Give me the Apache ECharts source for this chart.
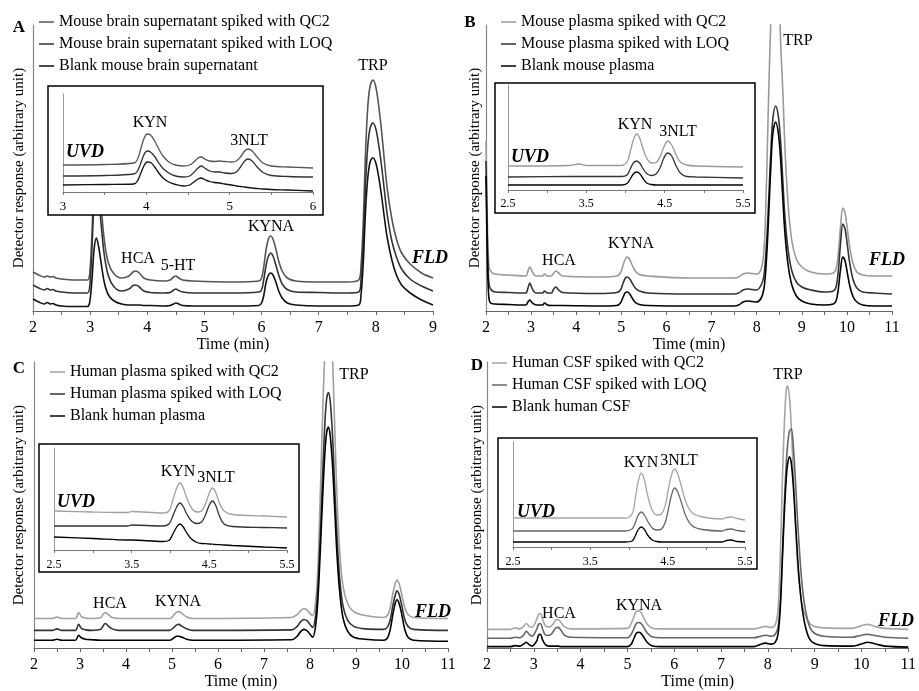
<!DOCTYPE html>
<html>
<head>
<meta charset="utf-8">
<script src="https://cdn.jsdelivr.net/npm/echarts@6/dist/echarts.min.js"></script>
<style>
  html, body { margin: 0; padding: 0; background: #fff; }
  #chart { width: 919px; height: 691px; }
</style>
</head>
<body>
<div id="chart"></div>
<script>
// ---- data (time in min, response in arbitrary units) ----

// Panel A: mouse brain supernatant, FLD
const timeA = [2.0, 2.1, 2.2, 2.25, 2.3, 2.35, 2.4, 2.5, 2.7, 2.95, 2.99, 3.03, 3.07, 3.11, 3.15, 3.2, 3.25, 3.32, 3.42, 3.55, 3.68, 3.75, 3.8, 3.86, 3.94, 4.05, 4.3, 4.4, 4.46, 4.5, 4.55, 4.62, 4.8, 5.5, 5.95, 6.0, 6.04, 6.08, 6.12, 6.16, 6.2, 6.25, 6.3, 6.36, 6.45, 6.6, 7.0, 7.5, 7.7, 7.74, 7.78, 7.82, 7.86, 7.9, 7.95, 8.0, 8.05, 8.1, 8.15, 8.2, 8.28, 8.36, 8.45, 8.6, 8.8, 9.0]
const qc2A = [39, 36, 34, 35, 34, 34.5, 33, 32, 31, 31, 36, 75, 135, 150, 135, 100, 70, 48, 37, 33, 35, 39, 40, 38, 33, 31, 30, 31, 34, 35, 33, 31, 30, 29, 30, 33, 45, 62, 72, 75, 72, 62, 50, 40, 33, 30, 29, 29, 31, 45, 90, 160, 205, 225, 231, 224, 205, 180, 150, 122, 92, 72, 58, 47, 38, 33]
const loqA = [26, 23, 21, 22.5, 21, 21.5, 20, 19, 18, 18, 23, 60, 110, 125, 112, 82, 55, 35, 24, 20, 22, 25.5, 26, 24, 20, 18.5, 18, 18.5, 21, 22, 20.5, 19, 18, 18, 19, 21, 32, 46, 55, 58, 55, 46, 36, 27, 21.5, 19, 18.5, 18, 19, 31, 69, 128, 166, 183, 188, 182, 166, 145, 120, 96, 70, 54, 42, 32, 25, 20]
const blankA = [12, 9, 7, 8.5, 7, 7.5, 6, 5, 4.5, 4.5, 8, 30, 62, 73, 64, 45, 28, 16, 10, 7, 6, 6, 6, 6, 5.5, 5.5, 5, 5.5, 7, 8, 7, 5.5, 5, 5, 5.5, 8, 16, 29, 36, 38, 36, 29, 20, 13, 8, 6, 5, 5, 6, 16, 49, 101, 134, 149, 153, 148, 134, 115, 93, 73, 51, 36, 26, 18, 11, 6]
// Panel A inset, UVD
const timeAi = [3.0, 3.5, 3.85, 3.89, 3.93, 3.97, 4.01, 4.05, 4.1, 4.15, 4.2, 4.27, 4.35, 4.45, 4.52, 4.57, 4.62, 4.66, 4.7, 4.76, 4.82, 4.88, 4.94, 5.02, 5.08, 5.13, 5.18, 5.22, 5.27, 5.33, 5.4, 5.5, 5.7, 6.0]
const qc2Ai = [27, 27.5, 29, 32, 42, 53, 58, 57, 51, 43, 36, 30, 27, 26, 27, 30, 34, 35, 33, 31, 30.5, 31, 30.5, 30, 31, 35, 41, 43, 41, 35, 29, 26, 25, 24]
const loqAi = [16, 16.5, 18, 20.5, 28, 37, 41, 40, 35.5, 29, 23.5, 19, 16, 15, 16, 19.5, 24, 26, 24, 21, 20, 20, 19, 18.5, 20, 25, 31, 33, 31, 25, 19.5, 16.5, 15.5, 15]
const blankAi = [7, 7.5, 8, 10.5, 18, 26, 30, 29.5, 25, 19, 14, 10, 7.5, 6, 7, 10, 13, 14, 12.5, 10.5, 9.5, 9, 8, 7, 6, 5.5, 5, 4.5, 4, 3.5, 3, 2.5, 2, 1]

// Panel B: mouse plasma, FLD
const timeB = [2.0, 2.03, 2.06, 2.1, 2.2, 2.5, 2.88, 2.93, 2.97, 3.01, 3.06, 3.12, 3.25, 3.3, 3.36, 3.45, 3.5, 3.55, 3.61, 3.7, 4.5, 4.9, 4.98, 5.04, 5.09, 5.13, 5.18, 5.24, 5.31, 5.4, 5.6, 6.5, 7.5, 7.6, 7.7, 7.8, 7.9, 8.0, 8.1, 8.16, 8.2, 8.24, 8.28, 8.32, 8.36, 8.42, 8.48, 8.53, 8.58, 8.63, 8.7, 8.78, 8.88, 9.0, 9.2, 9.5, 9.7, 9.76, 9.81, 9.86, 9.91, 9.96, 10.01, 10.07, 10.14, 10.22, 10.35, 10.6, 11.0]
const qc2B = [170, 90, 48, 40, 37, 36, 35, 40, 44, 41, 36.5, 35, 35, 37, 35, 35, 38, 40, 38, 35, 34, 35, 38, 46, 52, 54, 52, 46, 40, 36.5, 35, 33, 33, 34, 37, 38, 37.5, 37, 42, 60, 100, 170, 240, 300, 360, 400, 360, 270, 220, 160, 105, 70, 52, 44, 39, 37, 38, 42, 58, 85, 103, 98, 82, 62, 47, 39, 36, 35, 35]
const loqB = [150, 70, 30, 22, 19, 18.5, 18, 23, 28, 24, 19.5, 18, 18, 20, 18, 18, 22, 24, 21, 18.5, 17.5, 18.5, 21, 28, 33, 34, 32.5, 28, 23, 20, 18, 17, 17, 18, 21, 22, 21.5, 21, 26, 35, 55, 85, 125, 165, 193, 205, 195, 170, 130, 92, 60, 40, 29, 24, 21, 19, 20, 24, 40, 68, 87, 82, 66, 46, 31, 23, 19, 18, 17]
const blankB = [135, 55, 15, 8, 7, 6.5, 6, 9, 11, 9, 7, 6, 6, 8, 6, 5.5, 5.5, 5.5, 5.5, 5.5, 5, 5.5, 8, 14, 18.5, 19, 17.5, 13, 8.5, 6.5, 5.5, 5, 5, 6, 9, 10, 9.5, 9, 13, 22, 40, 70, 110, 150, 178, 189, 178, 152, 112, 76, 45, 26, 15, 10, 7, 6, 7, 10, 22, 42, 54, 50, 38, 24, 14, 9, 6, 5, 5]
// Panel B inset, UVD
const timeBi = [2.5, 3.3, 3.4, 3.5, 3.95, 4.02, 4.06, 4.1, 4.14, 4.18, 4.22, 4.27, 4.33, 4.39, 4.44, 4.49, 4.54, 4.59, 4.64, 4.7, 4.78, 4.9, 5.5]
const qc2Bi = [24, 24.5, 26, 24.5, 24.5, 28, 38, 50, 56, 52, 42, 32, 27, 27.5, 33, 43, 49, 45, 36, 28, 25, 24, 23]
const loqBi = [13, 13.5, 13.5, 13.5, 13.5, 15, 21, 27, 29, 27, 22, 16.5, 14.5, 16, 22, 32, 37, 34, 25, 17, 13.5, 13, 12]
const blankBi = [5, 5, 5, 5, 5, 6.5, 11, 16, 18, 16.5, 12, 7, 5.5, 5, 5, 5, 5, 5, 5, 5, 5, 5, 5]

// Panel C: human plasma, FLD
const timeC = [2.0, 2.4, 2.5, 2.6, 2.9, 2.97, 3.03, 3.12, 3.25, 3.45, 3.5, 3.55, 3.6, 3.7, 3.85, 4.95, 5.03, 5.1, 5.15, 5.22, 5.32, 5.45, 7.6, 7.72, 7.8, 7.87, 7.94, 8.0, 8.06, 8.12, 8.17, 8.22, 8.27, 8.32, 8.36, 8.4, 8.44, 8.49, 8.54, 8.59, 8.65, 8.72, 8.82, 8.95, 9.2, 9.6, 9.68, 9.74, 9.8, 9.85, 9.89, 9.94, 10.0, 10.06, 10.13, 10.25, 11.0]
const qc2C = [30, 30, 31.5, 30, 30, 36, 32, 30.5, 30, 31, 34, 36, 34.5, 31, 30, 30, 33, 36.5, 37, 35, 31.5, 30, 31, 34, 38, 40, 38.5, 35, 33, 46, 80, 150, 230, 300, 345, 360, 345, 295, 220, 150, 95, 62, 45, 37, 33, 31, 33, 40, 55, 65, 69, 65, 53, 41, 34, 31, 30]
const loqC = [18, 18, 19.5, 18, 18, 24, 20, 18.5, 18, 19, 22.5, 25, 23, 19.5, 18, 18, 20.5, 23.5, 24, 22, 19.5, 18, 18.5, 22, 27, 29, 27.5, 24, 21, 32, 60, 110, 170, 225, 252, 259, 250, 215, 160, 110, 68, 42, 28, 22, 19.5, 19, 21, 28, 43, 53, 58, 54, 42, 29, 22, 19, 18]
const blankC = [8, 8, 9, 8, 8, 13, 10.5, 9, 8.5, 8, 8, 8, 8, 8, 8, 8, 10, 12, 12, 11, 9, 8, 8.5, 12, 17, 19, 17.5, 14, 11, 22, 48, 95, 148, 195, 218, 224, 215, 185, 138, 92, 55, 30, 17, 11, 9, 8, 10, 18, 34, 45, 49, 45, 33, 19, 11, 8, 7]
// Panel C inset, UVD
const timeCi = [2.5, 3.0, 3.45, 3.5, 3.9, 3.98, 4.03, 4.08, 4.12, 4.16, 4.21, 4.27, 4.34, 4.4, 4.45, 4.5, 4.54, 4.58, 4.63, 4.69, 4.8, 5.2, 5.5]
const qc2Ci = [39, 38, 37.5, 38.5, 37, 39, 50, 62, 67, 63, 52, 42, 38, 39, 46, 57, 62, 58, 47, 39, 35.5, 34, 33]
const loqCi = [24, 24, 24, 25, 24, 26, 34, 43, 47, 44, 36, 29, 26.5, 28, 35, 45, 49, 45, 34, 26, 23.5, 22.5, 22]
const blankCi = [13, 11.5, 10, 10, 8.5, 9.5, 16, 23, 26, 23.5, 17, 11, 7.5, 6.5, 6.3, 6, 5.8, 5.5, 5.3, 5, 4.5, 3, 2]

// Panel D: human CSF, FLD
const timeD = [2.0, 2.5, 2.6, 2.7, 2.78, 2.84, 2.9, 2.96, 3.06, 3.1, 3.14, 3.19, 3.26, 3.34, 3.42, 3.47, 3.52, 3.58, 3.66, 3.78, 5.0, 5.08, 5.14, 5.19, 5.24, 5.29, 5.35, 5.42, 5.52, 5.7, 7.7, 7.85, 7.95, 8.08, 8.16, 8.22, 8.27, 8.31, 8.35, 8.39, 8.42, 8.46, 8.5, 8.55, 8.6, 8.66, 8.74, 8.84, 8.95, 9.2, 9.8, 9.95, 10.05, 10.12, 10.2, 10.32, 10.5, 11.0]
const qc2D = [19, 19, 20.5, 19.5, 22, 25, 22, 21, 29, 34, 35, 29, 22, 21.5, 25, 28.5, 29, 26, 21.5, 19.5, 20, 25, 32, 37, 38, 36, 30.5, 24.5, 20.5, 19.5, 19.5, 21, 22, 21, 24, 40, 100, 170, 225, 260, 266, 255, 225, 170, 115, 70, 42, 29, 23, 20.5, 20, 22, 23.5, 24, 23.5, 21.5, 20, 19]
const loqD = [10, 10, 11, 10.5, 13, 17, 14, 12, 19, 24, 25, 19, 13, 13, 17, 20.5, 21, 18, 13, 11, 10.5, 14, 20, 25, 26, 25, 21, 15.5, 11.5, 10.5, 10.5, 12, 13, 12, 14, 22, 50, 95, 145, 185, 205, 220, 222, 200, 160, 110, 60, 30, 17, 12, 11, 12.5, 13.5, 14, 13.5, 12.5, 11, 10]
const blankD = [1.5, 1.5, 2.5, 2, 4, 6, 3.5, 2, 7, 13, 14, 8, 3, 2, 2, 2, 2, 1.5, 1.5, 1.5, 1.5, 4, 10, 15, 16, 15, 11, 6, 2.5, 1.5, 1.5, 4, 5, 4, 6, 15, 45, 90, 135, 170, 186, 194, 188, 160, 120, 75, 38, 15, 6, 2.5, 2, 3.5, 5, 6, 5.5, 4, 2, 1]
// Panel D inset, UVD
const timeDi = [2.5, 3.95, 4.04, 4.08, 4.12, 4.16, 4.2, 4.24, 4.3, 4.36, 4.42, 4.47, 4.51, 4.55, 4.59, 4.63, 4.68, 4.74, 4.82, 4.95, 5.2, 5.26, 5.32, 5.4, 5.5]
const qc2Di = [29, 29, 33, 48, 66, 74, 67, 52, 37, 32, 33, 42, 58, 72, 78, 73, 60, 44, 34, 30, 28, 29.5, 30, 28.5, 27]
const loqDi = [16, 16, 18, 24, 32, 35, 32, 26, 19, 17, 18, 25, 38, 52, 59, 55, 44, 30, 21, 17.5, 16, 17.5, 18, 16.5, 15.5]
const blankDi = [5, 5, 6, 11, 17.5, 20, 17.5, 12, 7, 5.5, 5, 5, 5, 5, 5, 5, 5, 5, 5, 5, 5, 6.5, 7, 5.5, 5]

const legendA = ['Mouse brain supernatant spiked with QC2', 'Mouse brain supernatant spiked with LOQ', 'Blank mouse brain supernatant']
const legendB = ['Mouse plasma spiked with QC2', 'Mouse plasma spiked with LOQ', 'Blank mouse plasma']
const legendC = ['Human plasma spiked with QC2', 'Human plasma spiked with LOQ', 'Blank human plasma']
const legendD = ['Human CSF spiked with QC2', 'Human CSF spiked with LOQ', 'Blank human CSF']

// ---- styling ----
const FONT = '"Liberation Serif", "Times New Roman", serif'
const colorsA = ['#555555', '#333333', '#111111']
const colorsB = ['#9a9a9a', '#333333', '#000000']
const colorsC = ['#a0a0a0', '#333333', '#000000']
const colorsD = ['#a5a5a5', '#666666', '#000000']

const chart = echarts.init(document.getElementById('chart'), null, { renderer: 'canvas' })

const trace = (name, xs, ys, axis, color, z, width) => ({
  name,
  type: 'line',
  xAxisIndex: axis,
  yAxisIndex: axis,
  data: xs.map((t, i) => [t, ys[i]]),
  showSymbol: false,
  smooth: 0.35,
  color,
  itemStyle: { color },
  lineStyle: { color, width },
  z,
  silent: true,
  clip: true,
})

const mainX = (i, max) => ({
  gridIndex: i,
  type: 'value',
  min: 2,
  max,
  interval: 1,
  name: 'Time (min)',
  nameLocation: 'middle',
  nameGap: 23,
  nameTextStyle: { fontFamily: FONT, fontSize: 16, color: '#000' },
  axisLine: { onZero: false, lineStyle: { color: '#666', width: 1.2 } },
  axisTick: { show: true, length: 4, lineStyle: { color: '#666' } },
  minorTick: { show: true, splitNumber: 2, length: 4, lineStyle: { color: '#666' } },
  axisLabel: { fontFamily: FONT, fontSize: 16, color: '#000', margin: 9 },
  splitLine: { show: false },
})

const mainY = (i, max, gap) => ({
  gridIndex: i,
  type: 'value',
  min: 0,
  max,
  name: 'Detector response (arbitrary unit)',
  nameLocation: 'middle',
  nameGap: gap,
  nameTextStyle: { fontFamily: FONT, fontSize: 15, color: '#000' },
  axisLine: { show: true, onZero: false, lineStyle: { color: '#888', width: 1.2 } },
  axisTick: { show: false },
  axisLabel: { show: false },
  splitLine: { show: false },
})

const insetX = (i, min, max, fontSize, margin, half) => ({
  gridIndex: i,
  type: 'value',
  min,
  max,
  interval: 0.5,
  z: 12,
  axisLine: { onZero: false, lineStyle: { color: '#777', width: 1 } },
  axisTick: { show: true, length: 3, lineStyle: { color: '#777' } },
  axisLabel: {
    fontFamily: FONT, fontSize, color: '#000', margin,
    formatter: (v) => {
      const whole = Math.abs(v - Math.round(v)) < 1e-6
      if (half) return whole ? '' : v.toFixed(1)
      return whole ? String(Math.round(v)) : ''
    },
  },
  splitLine: { show: false },
})

const insetY = (i, max) => ({
  gridIndex: i,
  type: 'value',
  min: 0,
  max,
  z: 12,
  axisLine: { show: true, onZero: false, lineStyle: { color: '#999', width: 1 } },
  axisTick: { show: false },
  axisLabel: { show: false },
  splitLine: { show: false },
})

const legend = (names, left, top) => ({
  data: names,
  orient: 'vertical',
  left,
  top,
  padding: 0,
  itemWidth: 15,
  itemHeight: 1.5,
  itemGap: 6,
  icon: 'rect',
  selectedMode: false,
  textStyle: { fontFamily: FONT, fontSize: 16, color: '#000', lineHeight: 16 },
})

const text = (t, x, y, size = 16, style = 'normal') => ({
  type: 'text',
  x,
  y,
  z: 20,
  silent: true,
  style: {
    text: t,
    fill: '#000',
    font: `${style} ${size}px ${FONT}`,
    align: 'center',
    verticalAlign: 'middle',
  },
})

const frame = (x, y, width, height) => ({
  type: 'rect',
  z: 10,
  silent: true,
  shape: { x, y, width, height },
  style: { fill: '#fff', stroke: '#000', lineWidth: 1.5 },
})

const series = []
const addPanel = (names, colors, axis, time, q, l, b, width) => {
  series.push(trace(names[0], time, q, axis, colors[0], 3, width))
  series.push(trace(names[1], time, l, axis, colors[1], 4, width))
  series.push(trace(names[2], time, b, axis, colors[2], 5, width))
}
addPanel(legendA, colorsA, 0, timeA, qc2A, loqA, blankA, 1.6)
addPanel(legendB, colorsB, 1, timeB, qc2B, loqB, blankB, 1.6)
addPanel(legendC, colorsC, 2, timeC, qc2C, loqC, blankC, 1.6)
addPanel(legendD, colorsD, 3, timeD, qc2D, loqD, blankD, 1.6)
const insetNames = (p) => [p + ' inset QC2', p + ' inset LOQ', p + ' inset blank']
const addInset = (p, colors, axis, time, q, l, b) => {
  const n = insetNames(p)
  series.push(trace(n[0], time, q, axis, colors[0], 15, 1.3))
  series.push(trace(n[1], time, l, axis, colors[1], 16, 1.3))
  series.push(trace(n[2], time, b, axis, colors[2], 17, 1.3))
}
addInset('A', colorsA, 4, timeAi, qc2Ai, loqAi, blankAi)
addInset('B', colorsB, 5, timeBi, qc2Bi, loqBi, blankBi)
addInset('C', colorsC, 6, timeCi, qc2Ci, loqCi, blankCi)
addInset('D', colorsD, 7, timeDi, qc2Di, loqDi, blankDi)

chart.setOption({
  animation: false,
  backgroundColor: '#fff',
  grid: [
    { left: 33, top: 25, width: 400, height: 286 },
    { left: 486, top: 25, width: 406, height: 286 },
    { left: 34, top: 362, width: 414, height: 290 },
    { left: 487, top: 362, width: 424, height: 290 },
    { left: 63, top: 94, width: 250, height: 98, z: 11 },
    { left: 508, top: 85, width: 235, height: 105, z: 11 },
    { left: 54, top: 448, width: 233, height: 102, z: 11 },
    { left: 513, top: 442, width: 232, height: 105, z: 11 },
  ],
  xAxis: [
    mainX(0, 9),
    mainX(1, 11),
    mainX(2, 11),
    mainX(3, 11),
    insetX(4, 3, 6, 13, 8, false),
    insetX(5, 2.5, 5.5, 12, 8, true),
    insetX(6, 2.5, 5.5, 12, 9, true),
    insetX(7, 2.5, 5.5, 12, 9, true),
  ],
  yAxis: [
    mainY(0, 286, 6),
    mainY(1, 286, 3),
    mainY(2, 290, 7),
    mainY(3, 290, 2),
    insetY(4, 98),
    insetY(5, 105),
    insetY(6, 102),
    insetY(7, 105),
  ],
  legend: [
    legend(legendA, 39, 14),
    legend(legendB, 501, 14),
    legend(legendC, 50, 364),
    legend(legendD, 492, 355),
  ],
  graphic: [
    frame(48, 86, 275, 129),
    frame(495, 83, 260, 130),
    frame(39, 444, 260, 128),
    frame(498, 438, 259, 131),
    // panel letters
    text('A', 19, 28, 17, 'bold'),
    text('B', 470, 23, 17, 'bold'),
    text('C', 19, 369, 17, 'bold'),
    text('D', 477, 366, 17, 'bold'),
    // panel A
    text('TRP', 373, 66), text('KYNA', 271, 227), text('HCA', 138, 259), text('5-HT', 178, 266),
    text('FLD', 430, 258, 18, 'italic bold'),
    text('KYN', 150, 123), text('3NLT', 249, 141), text('UVD', 85, 152, 18, 'italic bold'),
    // panel B
    text('TRP', 798, 41), text('KYNA', 631, 244), text('HCA', 559, 261),
    text('FLD', 887, 260, 18, 'italic bold'),
    text('KYN', 635, 125), text('3NLT', 678, 132), text('UVD', 530, 157, 18, 'italic bold'),
    // panel C
    text('TRP', 354, 375), text('KYNA', 178, 602), text('HCA', 110, 604),
    text('FLD', 433, 612, 18, 'italic bold'),
    text('KYN', 178, 472), text('3NLT', 216, 478), text('UVD', 76, 502, 18, 'italic bold'),
    // panel D
    text('TRP', 788, 375), text('KYNA', 639, 606), text('HCA', 559, 614),
    text('FLD', 896, 621, 18, 'italic bold'),
    text('KYN', 641, 463), text('3NLT', 679, 461), text('UVD', 536, 512, 18, 'italic bold'),
  ],
  series,
})

window.addEventListener('resize', () => chart.resize())
</script>
</body>
</html>
